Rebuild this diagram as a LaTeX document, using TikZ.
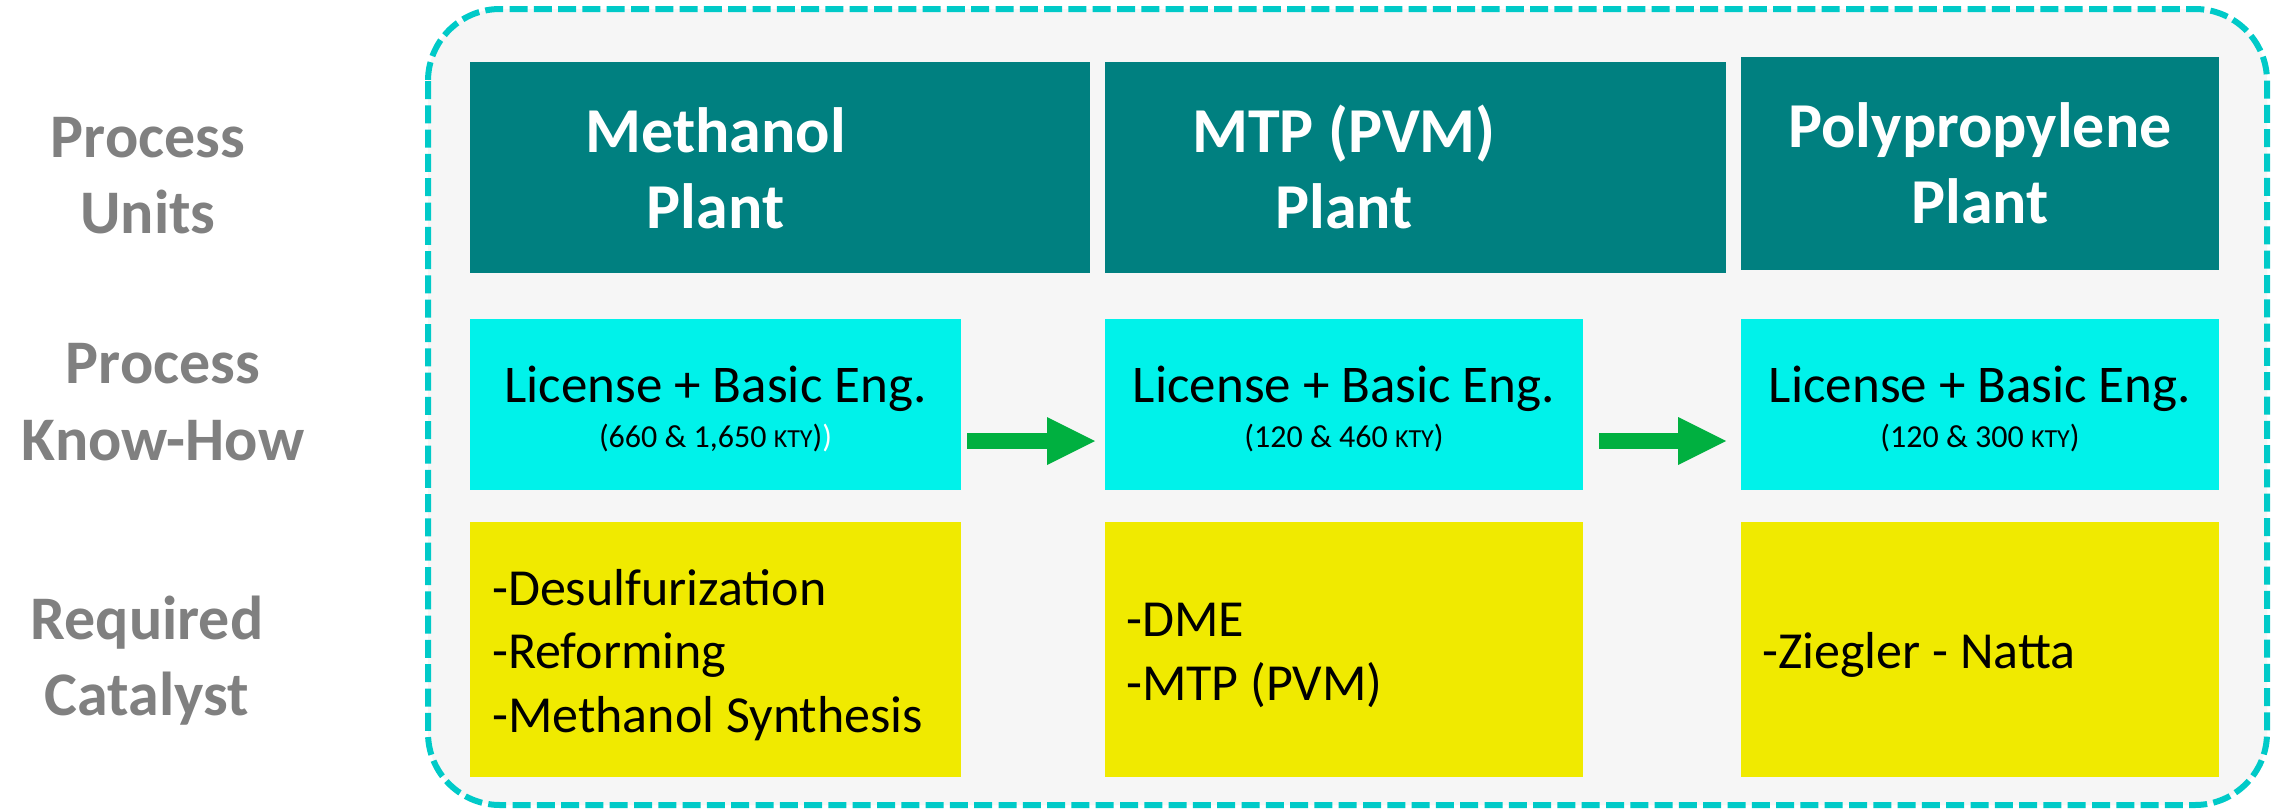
\documentclass[tikz,border=0pt]{standalone}
\usepackage{fontspec}
\setmainfont{Carlito}
\usetikzlibrary{arrows.meta}
\definecolor{tealbox}{RGB}{0,128,128}
\definecolor{cyanbox}{RGB}{0,242,234}
\definecolor{yellowbox}{RGB}{240,234,0}
\definecolor{arrowgreen}{RGB}{0,176,64}
\definecolor{labelgray}{RGB}{128,128,128}
\definecolor{dashcol}{RGB}{0,202,200}
\definecolor{panel}{RGB}{246,246,246}
\newcommand{\kty}{{\fontsize{26}{30}\selectfont KTY}}
\begin{document}
\begin{tikzpicture}[x=1pt,y=-1pt,
  box/.style={anchor=north west, inner sep=0pt, outer sep=0pt, draw=none},
  unitbox/.style={box, fill=tealbox},
  knowbox/.style={box, fill=cyanbox},
  catbox/.style={box, fill=yellowbox},
  unittext/.style={anchor=base, inner sep=0pt, text=white, font=\fontsize{64}{77}\selectfont\bfseries},
  knowtext/.style={anchor=base, inner sep=0pt, text=black, font=\fontsize{53}{64}\selectfont},
  knowsub/.style={anchor=base, inner sep=0pt, text=black, font=\fontsize{32}{38}\selectfont},
  cattext/.style={anchor=base west, inner sep=0pt, text=black, font=\fontsize{52}{63}\selectfont},
  rowlabel/.style={anchor=base, inner sep=0pt, text=labelgray, font=\fontsize{62}{76}\selectfont\bfseries},
  flow/.style={draw=arrowgreen, line width=16pt, -{Triangle[length=48pt,width=48pt,line width=0pt]}},
  frame/.style={draw=dashcol, fill=panel, line width=6pt, dash pattern=on 18pt off 6.3pt, rounded corners=72pt}
]
\useasboundingbox (0,0) rectangle (2278,809);
\fill[white] (0,0) rectangle (2278,809);
\draw[frame] (428,9) rectangle (2267,805);

% row labels
\node[rowlabel] (l1a) at (148,157) {Process};
\node[rowlabel] (l1b) at (148,233) {Units};
\node[rowlabel] (l2a) at (163,383) {Process};
\node[rowlabel] (l2b) at (163,460) {Know-How};
\node[rowlabel] (l3a) at (147,639) {Required};
\node[rowlabel] (l3b) at (147,715) {Catalyst};

% process units
\node[unitbox, minimum width=620pt, minimum height=211pt] (u1) at (470,62) {};
\node[unitbox, minimum width=621pt, minimum height=211pt] (u2) at (1105,62) {};
\node[unitbox, minimum width=478pt, minimum height=213pt] (u3) at (1741,57) {};
\node[unittext] (u1a) at (715.5,152) {Methanol};
\node[unittext] (u1b) at (715.5,228) {Plant};
\node[unittext] (u2a) at (1344,152) {MTP (PVM)};
\node[unittext] (u2b) at (1344,228) {Plant};
\node[unittext] (u3a) at (1980,147) {Polypropylene};
\node[unittext] (u3b) at (1980,223) {Plant};

% process know-how
\node[knowbox, minimum width=491pt, minimum height=171pt] (k1) at (470,319) {};
\node[knowbox, minimum width=478pt, minimum height=171pt] (k2) at (1105,319) {};
\node[knowbox, minimum width=478pt, minimum height=171pt] (k3) at (1741,319) {};
\node[knowtext] (k1a) at (715.5,402) {License + Basic Eng.};
\node[knowsub] (k1b) at (715.5,447) {(660 \& 1,650 \kty)\textcolor{white}{)}};
\node[knowtext] (k2a) at (1344,402) {License + Basic Eng.};
\node[knowsub] (k2b) at (1344,447) {(120 \& 460 \kty)};
\node[knowtext] (k3a) at (1980,402) {License + Basic Eng.};
\node[knowsub] (k3b) at (1980,447) {(120 \& 300 \kty)};

% arrows
\draw[flow, shorten <=6pt, shorten >=10pt] ([yshift=-36.5pt]k1.east) -- ([yshift=-36.5pt]k2.west);
\draw[flow, shorten <=16pt, shorten >=15pt] ([yshift=-36.5pt]k2.east) -- ([yshift=-36.5pt]k3.west);

% required catalyst
\node[catbox, minimum width=491pt, minimum height=255pt] (c1) at (470,522) {};
\node[catbox, minimum width=478pt, minimum height=255pt] (c2) at (1105,522) {};
\node[catbox, minimum width=478pt, minimum height=255pt] (c3) at (1741,522) {};
\node[cattext] (c1a) at (492,605) {-Desulfurization};
\node[cattext] (c1b) at (492,668) {-Reforming};
\node[cattext] (c1c) at (492,732) {-Methanol Synthesis};
\node[cattext] (c2a) at (1126,636) {-DME};
\node[cattext] (c2b) at (1126,700) {-MTP (PVM)};
\node[cattext] (c3a) at (1762,668) {-Ziegler - Natta};
\end{tikzpicture}
\end{document}
